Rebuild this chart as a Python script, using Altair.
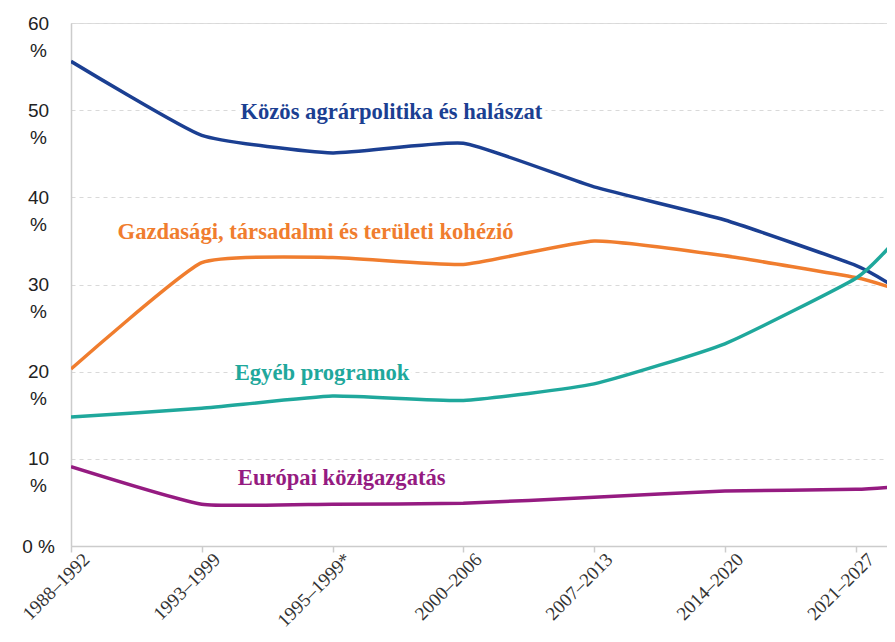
import altair as alt
import pandas as pd

# Periods on the x axis (the picture is cut off a little after the last one)
periods = ["1988–1992", "1993–1999", "1995–1999*", "2000–2006",
           "2007–2013", "2014–2020", "2021–2027"]
edge_pos = 6.3     # right edge of the reference picture, in period units
view_end = 6.24    # what fits in the page (body margin hides the last pixels)

series = ["Közös agrárpolitika és halászat",
          "Gazdasági, társadalmi és területi kohézió",
          "Egyéb programok",
          "Európai közigazgatás"]
colors = ["#1b3f92", "#f07d2e", "#1fa89c", "#951b81"]

# values (%) at each period, last value is read at the right edge
cap_fish = [55.6, 47.1, 45.1, 46.2, 41.2, 37.4, 32.2, 29.7]
cohesion = [20.3, 32.5, 33.1, 32.3, 35.0, 33.3, 30.8, 29.5]
other = [14.8, 15.8, 17.2, 16.7, 18.6, 23.2, 30.7, 35.0]
admin = [9.1, 4.8, 4.8, 4.9, 5.6, 6.3, 6.5, 6.8]

# label anchor (period units, %)
label_x = [2.45, 1.87, 1.92, 2.07]
label_y = [49.8, 36.0, 19.8, 7.8]

xpos = list(range(len(periods))) + [edge_pos]
rows = []
for name, vals in zip(series, [cap_fish, cohesion, other, admin]):
    for xp, v in zip(xpos, vals):
        rows.append({"series": name, "x": xp, "value": v})
df = pd.DataFrame(rows)
lab = pd.DataFrame({"series": series, "x": label_x, "y": label_y})

label_expr = "[" + ",".join(f"'{p}'" for p in periods) + "][datum.value]"

xscale = alt.Scale(domain=[0, view_end], nice=False, zero=False)
yscale = alt.Scale(domain=[0, 60], nice=False)
cscale = alt.Scale(domain=series, range=colors)

xaxis = alt.Axis(values=list(range(len(periods))), labelExpr=label_expr,
                 title=None, grid=False, labelAngle=-45, labelAlign="right",
                 labelBaseline="middle", labelFont="Liberation Serif",
                 labelFontSize=19, labelColor="#333333", labelPadding=4,
                 labelOffset=15, tickColor="#cccccc", tickSize=6, tickWidth=1.5,
                 domainColor="#cccccc", domainWidth=1.5, labelOverlap=False,
                 labelBound=False, labelFlush=False)
yaxis = alt.Axis(values=[0, 10, 20, 30, 40, 50, 60],
                 labelExpr="datum.value == 0 ? ['0 %', ''] : [datum.label, '%']",
                 title=None, ticks=False, grid=True, gridDash=[4, 4],
                 gridColor="#d9d9d9", gridWidth=1.2, domainColor="#cccccc",
                 domainWidth=1.5, labelFont="Liberation Sans", labelFontSize=19,
                 labelColor="#222222", labelAlign="center", labelPadding=33,
                 labelBaseline="middle", labelLineHeight=27, labelOffset=0,
                 labelOverlap=False, labelBound=False, format="d")

lines = alt.Chart(df).mark_line(interpolate="cardinal", tension=0.55, strokeWidth=3.5,
                                clip=True).encode(
    x=alt.X("x:Q", scale=xscale, axis=xaxis),
    y=alt.Y("value:Q", scale=yscale, axis=yaxis),
    color=alt.Color("series:N", scale=cscale, legend=None),
    detail="series:N",
)

halo = alt.Chart(lab).mark_text(font="Liberation Serif", fontWeight="bold", fontSize=22.6,
                                stroke="white", strokeWidth=7, fill="white").encode(
    x=alt.X("x:Q", scale=xscale),
    y=alt.Y("y:Q", scale=yscale),
    text="series:N",
)
texts = alt.Chart(lab).mark_text(font="Liberation Serif", fontWeight="bold", fontSize=22.6).encode(
    x=alt.X("x:Q", scale=xscale),
    y=alt.Y("y:Q", scale=yscale),
    text="series:N",
    color=alt.Color("series:N", scale=cscale, legend=None),
)

chart = alt.layer(halo, lines, texts).properties(
    width=816, height=523, autosize="none",
    padding={"left": 63, "top": 15, "right": 0, "bottom": 88},
).configure_view(stroke=None).configure(background="white")

chart.save("out.html", embed_options={"renderer": "svg", "actions": False})
